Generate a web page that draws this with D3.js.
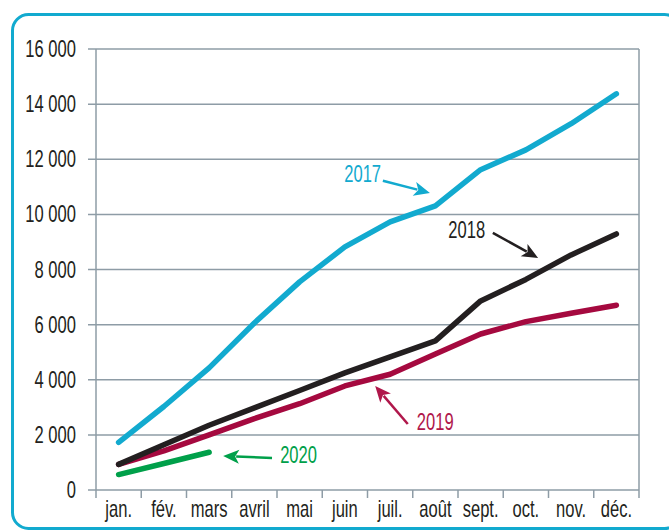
<!DOCTYPE html>
<html><head><meta charset="utf-8">
<script src="https://cdn.jsdelivr.net/npm/d3@7"></script>
<style>
html,body{margin:0;padding:0;background:#fff;}
svg{display:block;font-family:"Liberation Sans",Arial,sans-serif;}
</style></head>
<body><svg id="c" width="669" height="531"></svg>
<script>
const months = ["jan.","fév.","mars","avril","mai","juin","juil.","août","sept.","oct.","nov.","déc."];
const yTicks = [0,2000,4000,6000,8000,10000,12000,14000,16000];
const values2017 = [1730,3030,4430,6060,7550,8820,9730,10310,11620,12340,13290,14375];
const values2018 = [930,1640,2350,2980,3610,4250,4830,5410,6860,7640,8530,9290];
const values2019 = [930,1420,2000,2590,3130,3775,4200,4935,5660,6110,6410,6700];
const values2020 = [560,960,1370];
const seriesNames = ["2017","2018","2019","2020"];
const seriesColors = ["#12aacf","#231f20","#a5093f","#00a04a"];
const labelColors = ["#12aacf","#231f20","#b0174b","#00a04a"];
// annotations in data units: [labelIdx, labelVal, anchor, fromIdx, fromVal, toIdx, toVal]
const annotations = [
  [5.80,11180,"end",5.84,11220,6.88,10780],
  [8.10,9148,"end",8.27,9330,9.27,8420],
  [6.59,2178,"start",6.39,2396,5.67,3775],
  [3.57,980,"start",3.39,1162,2.31,1234]
];

const svg = d3.select("#c");
const L=96, R=639, T=49, B=490;
const FS=23, SX=0.72;

function addText(g,xp,yp,anchor,color,txt){
  return g.append("text").attr("transform",`translate(${xp},${yp}) scale(${SX},1)`)
    .attr("text-anchor",anchor).attr("font-size",FS).attr("fill",color).text(txt);
}

svg.append("rect").attr("x",12.5).attr("y",14.5).attr("width",668).attr("height",514)
  .attr("rx",16).attr("fill","none").attr("stroke","#12aacf").attr("stroke-width",3);

const x = d3.scaleBand().domain(months).range([L,R]).padding(0);
const xi = d3.scaleLinear().domain([-0.5,11.5]).range([L,R]);
const y = d3.scaleLinear().domain([0,16000]).range([B,T]);

const gridColor="#8e9ca6";
svg.append("g").selectAll("line").data(yTicks).join("line")
  .attr("x1",88).attr("x2",R).attr("y1",d=>y(d)).attr("y2",d=>y(d))
  .attr("stroke",gridColor).attr("stroke-width",1.5);
svg.append("line").attr("x1",L).attr("x2",L).attr("y1",T).attr("y2",B+8).attr("stroke",gridColor).attr("stroke-width",1.5);
svg.append("line").attr("x1",R).attr("x2",R).attr("y1",T).attr("y2",B+8).attr("stroke",gridColor).attr("stroke-width",1.5);
svg.append("g").selectAll("line").data(months.slice(1)).join("line")
  .attr("x1",d=>x(d)).attr("x2",d=>x(d)).attr("y1",B).attr("y2",B+8)
  .attr("stroke",gridColor).attr("stroke-width",1.5);

const gy=svg.append("g");
yTicks.forEach(d=>addText(gy,76,y(d)+8,"end","#231f20",d3.format(",")(d).replace(/,/g," ")));
const gx=svg.append("g");
months.forEach(m=>addText(gx,x(m)+x.bandwidth()/2,517,"middle","#231f20",m));

const allSeries=[values2017,values2018,values2019,values2020];
const line = d3.line().x((d,i)=>x(months[i])+x.bandwidth()/2).y(d=>y(d));
[3,0,2,1].forEach(k=>{
  svg.append("path").datum(allSeries[k]).attr("d",line)
    .attr("fill","none").attr("stroke",seriesColors[k]).attr("stroke-width",5.5)
    .attr("stroke-linecap","round").attr("stroke-linejoin","round");
});

annotations.forEach((a,k)=>{
  const c=labelColors[k];
  addText(svg,xi(a[0]),y(a[1]),a[2],c,seriesNames[k]);
  const x1=xi(a[3]),y1=y(a[4]),x2=xi(a[5]),y2=y(a[6]);
  const ang=Math.atan2(y2-y1,x2-x1), hl=16, hw=7;
  const bx=x2-hl*Math.cos(ang), by=y2-hl*Math.sin(ang);
  svg.append("line").attr("x1",x1).attr("y1",y1).attr("x2",bx+3*Math.cos(ang)).attr("y2",by+3*Math.sin(ang))
    .attr("stroke",c).attr("stroke-width",2.5);
  const px=-Math.sin(ang), py=Math.cos(ang);
  const back=x2-(hl-4)*Math.cos(ang), backy=y2-(hl-4)*Math.sin(ang);
  svg.append("path").attr("d",`M${x2},${y2}L${bx+hw*px},${by+hw*py}L${back},${backy}L${bx-hw*px},${by-hw*py}Z`)
    .attr("fill",c);
});
</script></body></html>
